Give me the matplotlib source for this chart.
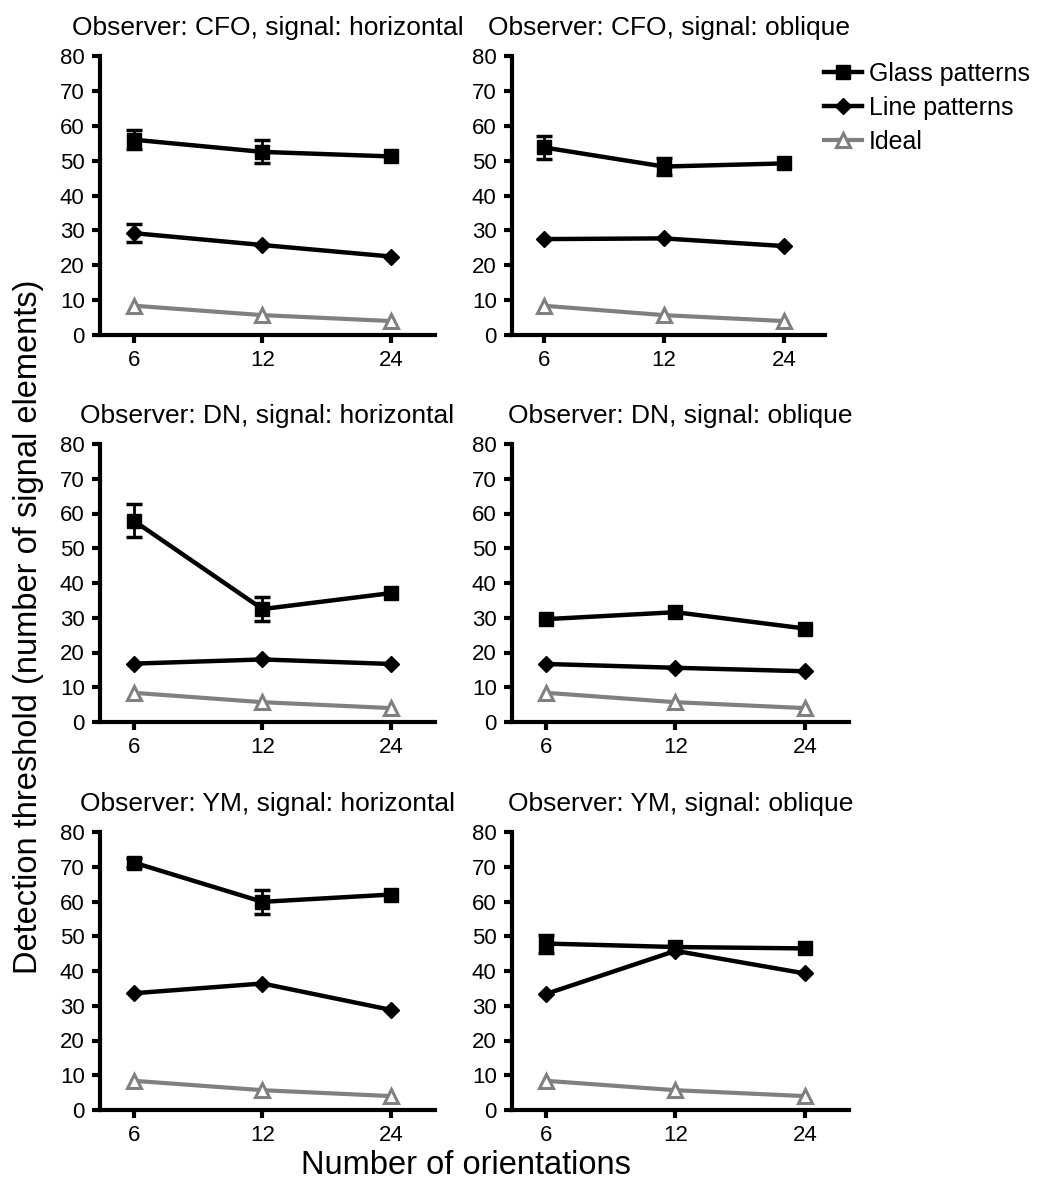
import numpy as np
import matplotlib
matplotlib.use('Agg')
from matplotlib import pyplot as plt

plt.rcParams['font.family'] = ['Liberation Sans', 'DejaVu Sans']

# x values (number of orientations)
orientations = [6, 12, 24]
tick_labels = ['6', '12', '24']

# ideal observer, same in every panel
ideal = [8.4, 5.7, 4.0]

# observer CFO (0 = error bar hidden behind the marker)
cfo_h_glass = [56.0, 52.5, 51.2]
cfo_h_glass_err = [2.8, 3.3, 0.0]
cfo_h_line = [29.2, 25.8, 22.5]
cfo_h_line_err = [2.5, 0.0, 0.0]
cfo_o_glass = [53.8, 48.3, 49.2]
cfo_o_glass_err = [3.2, 2.4, 0.0]
cfo_o_line = [27.5, 27.7, 25.5]
cfo_o_line_err = [0.0, 0.0, 0.0]

# observer DN
dn_h_glass = [57.9, 32.5, 37.1]
dn_h_glass_err = [4.7, 3.4, 0.0]
dn_h_line = [16.8, 18.0, 16.7]
dn_h_line_err = [0.0, 0.0, 0.0]
dn_o_glass = [29.6, 31.6, 26.9]
dn_o_glass_err = [0.0, 0.0, 0.0]
dn_o_line = [16.7, 15.6, 14.6]
dn_o_line_err = [0.0, 0.0, 0.0]

# observer YM
ym_h_glass = [71.2, 59.9, 62.0]
ym_h_glass_err = [1.2, 3.5, 0.0]
ym_h_line = [33.6, 36.4, 28.8]
ym_h_line_err = [0.0, 0.0, 0.0]
ym_o_glass = [47.9, 46.9, 46.5]
ym_o_glass_err = [2.6, 0.0, 0.0]
ym_o_line = [33.4, 45.8, 39.3]
ym_o_line_err = [0.0, 0.0, 0.0]

panels = [
    ('CFO', 'horizontal', cfo_h_glass, cfo_h_glass_err, cfo_h_line, cfo_h_line_err),
    ('CFO', 'oblique', cfo_o_glass, cfo_o_glass_err, cfo_o_line, cfo_o_line_err),
    ('DN', 'horizontal', dn_h_glass, dn_h_glass_err, dn_h_line, dn_h_line_err),
    ('DN', 'oblique', dn_o_glass, dn_o_glass_err, dn_o_line, dn_o_line_err),
    ('YM', 'horizontal', ym_h_glass, ym_h_glass_err, ym_h_line, ym_h_line_err),
    ('YM', 'oblique', ym_o_glass, ym_o_glass_err, ym_o_line, ym_o_line_err),
]

W, H = 1041, 1191
fig = plt.figure(figsize=(W / 100, H / 100), dpi=100)

# axes boxes in pixels: (left, top, right, bottom)
boxes = [
    (100, 56, 435, 335), (512, 56, 825, 335),
    (100, 444, 435, 722), (512, 444, 849, 722),
    (100, 832, 435, 1110), (512, 832, 849, 1110),
]

gray = '#808080'


def draw_errors(ax, y, err, z):
    # only draw the bars that stick out of the marker
    x = np.array(orientations)
    y = np.array(y)
    err = np.array(err)
    keep = err > 0
    if np.any(keep):
        ax.errorbar(x[keep], y[keep], yerr=err[keep], fmt='none', ecolor='black',
                    elinewidth=2, capsize=5.5, capthick=2.5, zorder=z)


handles = None
for (obs, sig, glass, glass_err, line, line_err), (l, t, r, b) in zip(panels, boxes):
    ax = fig.add_axes([l / W, 1 - b / H, (r - l) / W, (b - t) / H])

    h_ideal, = ax.plot(orientations, ideal, color=gray, lw=3, marker='^', ms=10,
                       mfc='white', mec=gray, mew=2.2, zorder=2)
    h_line, = ax.plot(orientations, line, color='black', lw=3.2, marker='D', ms=8,
                      zorder=3)
    draw_errors(ax, line, line_err, 3.1)
    h_glass, = ax.plot(orientations, glass, color='black', lw=3.2, marker='s',
                       ms=10.5, zorder=4)
    draw_errors(ax, glass, glass_err, 4.1)
    handles = [h_glass, h_line, h_ideal]

    ax.set_xscale('log', base=2)
    ax.set_xlim(5.0, 30.4)
    ax.set_ylim(0, 80)
    ax.set_xticks(orientations)
    ax.set_xticklabels(tick_labels)
    ax.minorticks_off()
    ax.set_yticks(range(0, 81, 10))

    for side in ['top', 'right']:
        ax.spines[side].set_visible(False)
    for side in ['left', 'bottom']:
        ax.spines[side].set_linewidth(3)
    ax.tick_params(width=3, length=6, labelsize=16, pad=5, direction='out')

    ax.set_title(f'Observer: {obs}, signal: {sig}', fontsize=19, pad=15)

fig.legend(handles, ['Glass patterns', 'Line patterns', 'Ideal'],
           loc='upper left', bbox_to_anchor=(824 / W, 1 - 62 / H),
           frameon=False, fontsize=18, handlelength=1.5, handletextpad=0.3,
           labelspacing=0.4, borderpad=0, borderaxespad=0)

fig.text(466 / W, 1 - 1165 / H, 'Number of orientations', fontsize=23.5,
         ha='center', va='center')
fig.text(29 / W, 1 - 627 / H, 'Detection threshold (number of signal elements)',
         fontsize=23.5, rotation=90, ha='center', va='center')

fig.savefig('out.png', dpi=100)
